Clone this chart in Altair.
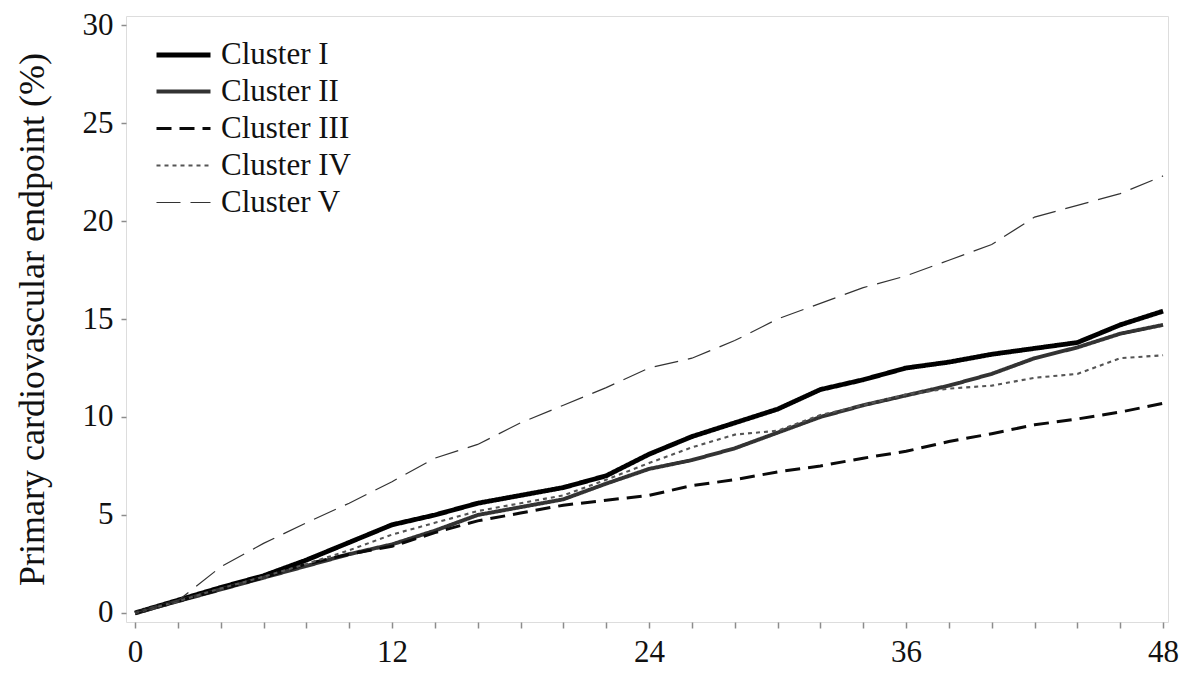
import altair as alt
import pandas as pd

# ---- data ----
months = [0, 2, 4, 6, 8, 10, 12, 14, 16, 18, 20, 22, 24, 26, 28, 30, 32, 34, 36, 38, 40, 42, 44, 46, 48]

cluster_I = [0, 0.65, 1.3, 1.9, 2.7, 3.6, 4.5, 5.0, 5.6, 6.0, 6.4, 7.0, 8.1, 9.0, 9.7, 10.4, 11.4, 11.9, 12.5, 12.8, 13.2, 13.5, 13.8, 14.7, 15.4]
cluster_II = [0, 0.6, 1.2, 1.8, 2.4, 3.0, 3.5, 4.2, 5.0, 5.4, 5.8, 6.6, 7.35, 7.8, 8.4, 9.2, 10.0, 10.6, 11.1, 11.6, 12.2, 13.0, 13.55, 14.25, 14.7]
cluster_III = [0, 0.6, 1.2, 1.8, 2.5, 3.0, 3.4, 4.1, 4.7, 5.1, 5.5, 5.75, 6.0, 6.5, 6.8, 7.2, 7.5, 7.9, 8.25, 8.75, 9.15, 9.6, 9.9, 10.25, 10.7]
cluster_IV = [0, 0.6, 1.25, 1.85, 2.5, 3.2, 4.0, 4.6, 5.2, 5.6, 6.0, 6.8, 7.65, 8.45, 9.1, 9.3, 10.1, 10.6, 11.15, 11.45, 11.6, 12.0, 12.2, 13.0, 13.15]
cluster_V = [0, 0.62, 2.35, 3.55, 4.6, 5.6, 6.7, 7.9, 8.6, 9.7, 10.6, 11.5, 12.5, 13.0, 13.9, 15.0, 15.8, 16.6, 17.2, 18.0, 18.8, 20.2, 20.8, 21.4, 22.3]

series_names = ["Cluster I", "Cluster II", "Cluster III", "Cluster IV", "Cluster V"]
series_values = [cluster_I, cluster_II, cluster_III, cluster_IV, cluster_V]

x_tick_values = list(range(0, 49, 2))
y_tick_values = [0, 5, 10, 15, 20, 25, 30]

# ---- styles ----
line_colors = ["#000000", "#333333", "#0a0a0a", "#555555", "#333333"]
line_dashes = [[1, 0], [1, 0], [15, 8], [4, 4], [24, 10]]
line_widths = [4.8, 1.2, 5.5, 1.6, 2.0]

rows = []
for name, vals in zip(series_names, series_values):
    for m, v in zip(months, vals):
        rows.append({"month": m, "value": v, "cluster": name})
df = pd.DataFrame(rows)

FONT = "Liberation Serif"

legend = alt.Legend(
    title=None,
    orient="none",
    legendX=28,
    legendY=23,
    symbolType="M-1,0H3",
    symbolSize=729,
    labelFont=FONT,
    labelFontSize=31,
    labelColor="#111111",
    labelOffset=35,
    rowPadding=5,
    padding=0,
)

chart = alt.Chart(df).mark_line(strokeCap="butt").encode(
    x=alt.X(
        "month:Q",
        scale=alt.Scale(domain=[-0.42, 48.23], nice=False, zero=False),
        axis=alt.Axis(
            values=x_tick_values,
            labelExpr="datum.value % 12 == 0 ? datum.label : ''",
            title=None,
            grid=False,
            domain=False,
            tickColor="#8c8c8c",
            tickSize=6,
            tickWidth=1.5,
            labelFont=FONT,
            labelFontSize=31,
            labelColor="#111111",
            labelPadding=9,
            labelFlush=False,
        ),
    ),
    y=alt.Y(
        "value:Q",
        scale=alt.Scale(domain=[-0.46, 30.46], nice=False, zero=False),
        axis=alt.Axis(
            values=y_tick_values,
            title="Primary cardiovascular endpoint (%)",
            grid=False,
            domain=False,
            tickColor="#8c8c8c",
            tickSize=5,
            tickWidth=1.5,
            labelFont=FONT,
            labelFontSize=31,
            labelColor="#111111",
            labelPadding=8,
            labelFlush=False,
            titleFont=FONT,
            titleFontSize=36,
            titleFontWeight="normal",
            titleColor="#111111",
            titleX=-94,
            titleY=303,
            titleAngle=270,
            titleAlign="center",
            titleBaseline="middle",
        ),
    ),
    color=alt.Color(
        "cluster:N",
        scale=alt.Scale(domain=series_names, range=line_colors),
        legend=legend,
    ),
    strokeDash=alt.StrokeDash(
        "cluster:N",
        scale=alt.Scale(domain=series_names, range=line_dashes),
        legend=legend,
    ),
    strokeWidth=alt.StrokeWidth(
        "cluster:N",
        scale=alt.Scale(domain=series_names, range=line_widths),
        legend=legend,
    ),
).properties(
    width=1042,
    height=606,
    autosize=alt.AutoSizeParams(type="none"),
    padding={"left": 118, "top": 8, "right": 14, "bottom": 49},
).configure_view(
    stroke="#8c8c8c",
    strokeWidth=2.5,
).configure(background="white")

chart.save("out.html", embed_options={"renderer": "svg", "actions": False})
